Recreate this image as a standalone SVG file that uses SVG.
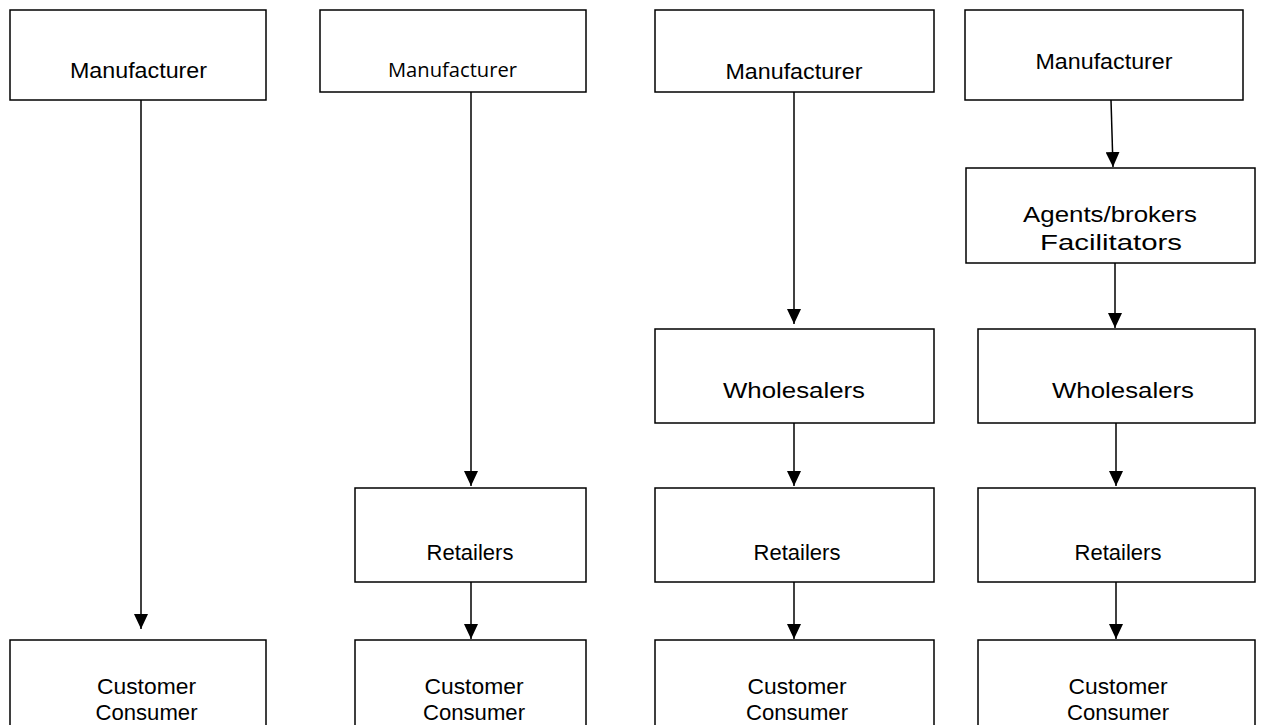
<svg xmlns="http://www.w3.org/2000/svg" width="1272" height="725" viewBox="0 0 1272 725">
<style>
.box{fill:#fff;stroke:#000;stroke-width:1.5}
.t{font-family:"Liberation Sans",Arial,sans-serif;font-size:22px;fill:#000;text-anchor:middle}
.c{font-family:"Open Sans","Noto Sans",sans-serif;font-size:20px;fill:#000;text-anchor:middle}
.ln{stroke:#000;stroke-width:1.5;fill:none}
</style>
<defs>
<marker id="a" markerWidth="15" markerHeight="14" refX="15" refY="7" orient="auto" markerUnits="userSpaceOnUse" viewBox="0 0 15 14">
<path d="M0,0 L15,7 L0,14 Z" fill="#000"/>
</marker>
</defs>
<rect width="1272" height="725" fill="#fff"/>
<g id="connectors">
<line class="ln" x1="141" y1="100" x2="141" y2="629" marker-end="url(#a)"/>
<line class="ln" x1="471" y1="92" x2="471" y2="486" marker-end="url(#a)"/>
<line class="ln" x1="471" y1="582" x2="471" y2="639" marker-end="url(#a)"/>
<line class="ln" x1="794" y1="92" x2="794" y2="324" marker-end="url(#a)"/>
<line class="ln" x1="794" y1="423" x2="794" y2="486" marker-end="url(#a)"/>
<line class="ln" x1="794" y1="582" x2="794" y2="639" marker-end="url(#a)"/>
<line class="ln" x1="1111" y1="100" x2="1113" y2="167" marker-end="url(#a)"/>
<line class="ln" x1="1115" y1="263" x2="1115" y2="328" marker-end="url(#a)"/>
<line class="ln" x1="1116" y1="423" x2="1116" y2="486" marker-end="url(#a)"/>
<line class="ln" x1="1116" y1="582" x2="1116" y2="639" marker-end="url(#a)"/>
</g>
<g id="c1-manufacturer"><rect class="box" x="10" y="10" width="256" height="90"/><text class="t" x="138.5" y="78" textLength="137" lengthAdjust="spacingAndGlyphs">Manufacturer</text></g>
<g id="c1-customer"><rect class="box" x="10" y="640" width="256" height="100"/><text class="t" x="146.5" y="694" textLength="99" lengthAdjust="spacingAndGlyphs">Customer</text><text class="t" x="146.5" y="720" textLength="102" lengthAdjust="spacingAndGlyphs">Consumer</text></g>
<g id="c2-manufacturer"><rect class="box" x="320" y="10" width="266" height="82"/><text class="c" x="452.5" y="77" textLength="129" lengthAdjust="spacingAndGlyphs">Manufacturer</text></g>
<g id="c2-retailers"><rect class="box" x="355" y="488" width="231" height="94"/><text class="t" x="470" y="560">Retailers</text></g>
<g id="c2-customer"><rect class="box" x="355" y="640" width="231" height="100"/><text class="t" x="474" y="694" textLength="99" lengthAdjust="spacingAndGlyphs">Customer</text><text class="t" x="474" y="720" textLength="102" lengthAdjust="spacingAndGlyphs">Consumer</text></g>
<g id="c3-manufacturer"><rect class="box" x="655" y="10" width="279" height="82"/><text class="t" x="794" y="79" textLength="137" lengthAdjust="spacingAndGlyphs">Manufacturer</text></g>
<g id="c3-wholesalers"><rect class="box" x="655" y="329" width="279" height="94"/><text class="t" x="794" y="398" textLength="142" lengthAdjust="spacingAndGlyphs">Wholesalers</text></g>
<g id="c3-retailers"><rect class="box" x="655" y="488" width="279" height="94"/><text class="t" x="797" y="560">Retailers</text></g>
<g id="c3-customer"><rect class="box" x="655" y="640" width="279" height="100"/><text class="t" x="797" y="694" textLength="99" lengthAdjust="spacingAndGlyphs">Customer</text><text class="t" x="797" y="720" textLength="102" lengthAdjust="spacingAndGlyphs">Consumer</text></g>
<g id="c4-manufacturer"><rect class="box" x="965" y="10" width="278" height="90"/><text class="t" x="1104" y="69" textLength="137" lengthAdjust="spacingAndGlyphs">Manufacturer</text></g>
<g id="c4-agents"><rect class="box" x="966" y="168" width="289" height="95"/><text class="t" x="1110" y="222" textLength="174" lengthAdjust="spacingAndGlyphs">Agents/brokers</text><text class="t" x="1111" y="250" textLength="142" lengthAdjust="spacingAndGlyphs">Facilitators</text></g>
<g id="c4-wholesalers"><rect class="box" x="978" y="329" width="277" height="94"/><text class="t" x="1123" y="398" textLength="142" lengthAdjust="spacingAndGlyphs">Wholesalers</text></g>
<g id="c4-retailers"><rect class="box" x="978" y="488" width="277" height="94"/><text class="t" x="1118" y="560">Retailers</text></g>
<g id="c4-customer"><rect class="box" x="978" y="640" width="277" height="100"/><text class="t" x="1118" y="694" textLength="99" lengthAdjust="spacingAndGlyphs">Customer</text><text class="t" x="1118" y="720" textLength="102" lengthAdjust="spacingAndGlyphs">Consumer</text></g>
</svg>
